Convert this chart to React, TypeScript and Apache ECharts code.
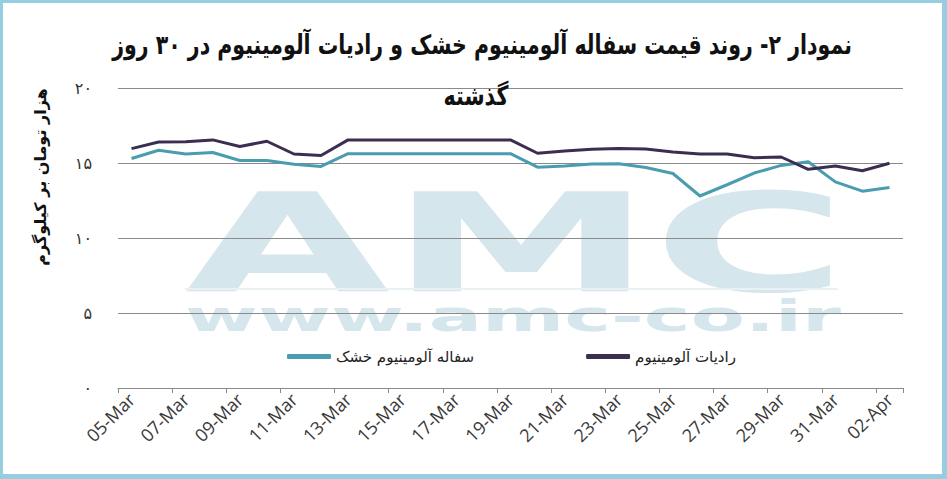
import React, { useEffect, useRef } from "react";
import * as echarts from "echarts";

const dates = [
  "05-Mar", "06-Mar", "07-Mar", "08-Mar", "09-Mar", "10-Mar", "11-Mar", "12-Mar",
  "13-Mar", "14-Mar", "15-Mar", "16-Mar", "17-Mar", "18-Mar", "19-Mar", "20-Mar",
  "21-Mar", "22-Mar", "23-Mar", "24-Mar", "25-Mar", "26-Mar", "27-Mar", "28-Mar",
  "29-Mar", "30-Mar", "31-Mar", "01-Apr", "02-Apr",
];

const scrapPrices = [
  15.3, 15.85, 15.6, 15.7, 15.17, 15.17, 14.92, 14.77, 15.62, 15.62, 15.62, 15.62,
  15.62, 15.62, 15.62, 14.72, 14.8, 14.94, 14.95, 14.7, 14.3, 12.8, 13.55, 14.33,
  14.84, 15.08, 13.74, 13.12, 13.37,
];

const radiatorPrices = [
  15.96, 16.4, 16.42, 16.54, 16.1, 16.45, 15.6, 15.5, 16.54, 16.54, 16.54, 16.54,
  16.54, 16.54, 16.54, 15.65, 15.8, 15.92, 15.96, 15.94, 15.74, 15.6, 15.6, 15.35,
  15.4, 14.58, 14.8, 14.48, 14.98,
];

const seriesNames = ["سفاله آلومینیوم خشک", "رادیات آلومینیوم"];
const titleLines = [
  "نمودار ۲- روند قیمت سفاله آلومینیوم خشک و رادیات آلومینیوم در ۳۰ روز",
  "گذشته",
];
const yAxisTitle = "هزار تومان بر کیلوگرم";
const watermarkBig = "AMC";
const watermarkUrl = "www.amc-co.ir";

const toPersian = (s: string) => s.replace(/\d/g, (d) => "۰۱۲۳۴۵۶۷۸۹"[+d]);

export default function App() {
  const ref = useRef<HTMLDivElement>(null);
  useEffect(() => {
    if (!ref.current) return;
    const chart = echarts.init(ref.current, null, { renderer: "svg" });
    const wm = "#d5e6ec";
    const frame = "#96cde0";
    chart.setOption({
      animation: false,
      backgroundColor: "#ffffff",
      grid: { left: 118, right: 44, top: 88, bottom: 91 },
      legend: {
        left: 282,
        top: 344,
        itemGap: 112,
        itemWidth: 44,
        itemHeight: 5,
        icon: "roundRect",
        textStyle: { fontFamily: "DejaVu Sans", fontSize: 15, color: "#222" },
        data: seriesNames,
      },
      xAxis: {
        type: "category",
        data: dates,
        boundaryGap: true,
        axisLine: { lineStyle: { color: "#8a8a8a", width: 1 } },
        axisTick: { show: true, interval: 1, length: 5, lineStyle: { color: "#8a8a8a" } },
        axisLabel: {
          interval: 1,
          rotate: 45,
          fontFamily: "Open Sans",
          fontSize: 18,
          color: "#3a3a3a",
          margin: 8,
        },
      },
      yAxis: {
        type: "value",
        min: 0,
        max: 20,
        interval: 5,
        axisLine: { show: false },
        axisTick: { show: false },
        splitLine: { lineStyle: { color: "#8a8a8a", width: 1 } },
        axisLabel: {
          formatter: (v: number) => toPersian(String(v)),
          fontFamily: "DejaVu Sans",
          fontSize: 16,
          color: "#333",
          margin: 26,
        },
      },
      series: [
        {
          name: seriesNames[0],
          type: "line",
          data: scrapPrices,
          showSymbol: false,
          symbol: "none",
          lineStyle: { color: "#4a9cb1", width: 3 },
          itemStyle: { color: "#4a9cb1" },
          z: 3,
        },
        {
          name: seriesNames[1],
          type: "line",
          data: radiatorPrices,
          showSymbol: false,
          symbol: "none",
          lineStyle: { color: "#3c2e50", width: 3 },
          itemStyle: { color: "#3c2e50" },
          z: 4,
        },
      ],
      graphic: [
        {
          type: "text",
          x: 185,
          y: 244,
          scaleX: 1.93,
          z: -10,
          silent: true,
          style: {
            text: watermarkBig,
            fill: wm,
            fontFamily: "DejaVu Sans",
            fontWeight: "bold",
            fontSize: 137,
            align: "left",
            verticalAlign: "middle",
          },
        },
        {
          type: "rect",
          z: -10,
          silent: true,
          shape: { x: 185, y: 288, width: 653, height: 2 },
          style: { fill: "#e9f1f4" },
        },
        {
          type: "text",
          x: 185,
          y: 316,
          scaleX: 1.88,
          z: -10,
          silent: true,
          style: {
            text: watermarkUrl,
            fill: wm,
            fontFamily: "DejaVu Sans",
            fontWeight: "bold",
            fontSize: 42,
            align: "left",
            verticalAlign: "middle",
          },
        },
        {
          type: "text",
          x: 482,
          y: 45,
          scaleX: 0.76,
          z: 10,
          style: {
            text: titleLines[0],
            fill: "#111",
            fontFamily: "DejaVu Sans",
            fontWeight: "bold",
            fontSize: 27,
            align: "center",
            verticalAlign: "middle",
          },
        },
        {
          type: "text",
          x: 476,
          y: 96,
          scaleX: 0.76,
          z: 10,
          style: {
            text: titleLines[1],
            fill: "#111",
            fontFamily: "DejaVu Sans",
            fontWeight: "bold",
            fontSize: 27,
            align: "center",
            verticalAlign: "middle",
          },
        },
        {
          type: "text",
          x: 40,
          y: 177,
          rotation: Math.PI / 2,
          z: 10,
          style: {
            text: yAxisTitle,
            fill: "#111",
            fontFamily: "DejaVu Sans",
            fontWeight: "bold",
            fontSize: 16,
            align: "center",
            verticalAlign: "middle",
          },
        },
        { type: "rect", z: 20, shape: { x: 0, y: 0, width: 947, height: 3 }, style: { fill: frame } },
        { type: "rect", z: 20, shape: { x: 0, y: 0, width: 3, height: 479 }, style: { fill: frame } },
        { type: "rect", z: 20, shape: { x: 942, y: 0, width: 5, height: 479 }, style: { fill: frame } },
        { type: "rect", z: 20, shape: { x: 0, y: 474, width: 947, height: 5 }, style: { fill: frame } },
      ],
    });
    return () => chart.dispose();
  }, []);
  return (
    <div
      ref={ref}
      style={{ position: "absolute", left: 0, top: 0, width: 947, height: 479 }}
    />
  );
}
